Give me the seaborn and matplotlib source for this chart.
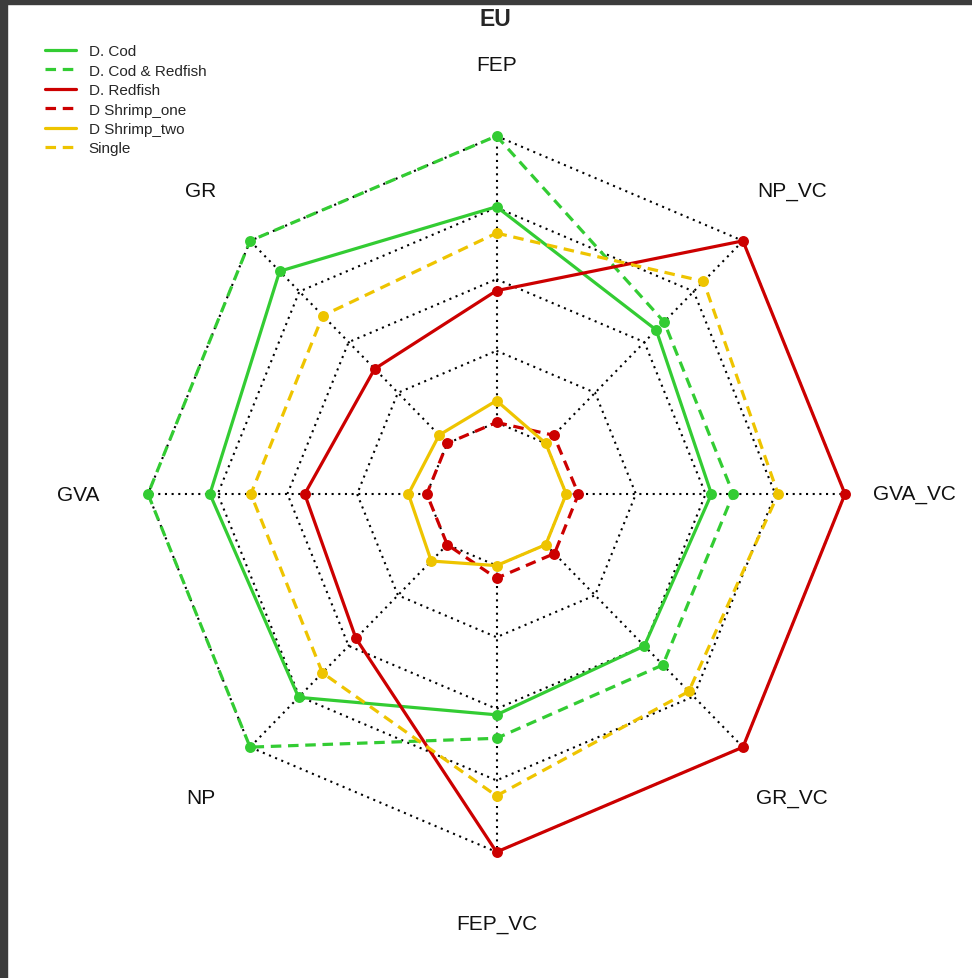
import numpy as np
import pandas as pd
import matplotlib
matplotlib.use("Agg")
import matplotlib.pyplot as plt
from matplotlib.lines import Line2D
from matplotlib.patches import Rectangle
import seaborn as sns

# Radar axes, clockwise from the top
axes_labels = ["FEP", "NP_VC", "GVA_VC", "GR_VC", "FEP_VC", "NP", "GVA", "GR"]

# Scores per axis on a 0 (axis minimum) .. 100 (axis maximum) scale
d_cod = [75.3, 56.0, 52.1, 50.0, 52.1, 75.4, 77.8, 85.0]
d_cod_redfish = [100, 60.0, 59.9, 59.4, 60.3, 100, 100, 100]
d_redfish = [46.0, 100, 100, 100, 100, 46.3, 43.8, 36.8]
d_shrimp_one = [0, 4.0, 4.4, 4.4, 4.4, 0, 0, 0]
d_shrimp_two = [7.6, 0, 0, 0, 0, 8.1, 6.6, 4.1]
single = [66.1, 80.0, 76.0, 72.5, 80.4, 63.3, 63.1, 63.1]

series_names = ["D. Cod", "D. Cod & Redfish", "D. Redfish",
                "D Shrimp_one", "D Shrimp_two", "Single"]
series_values = [d_cod, d_cod_redfish, d_redfish,
                 d_shrimp_one, d_shrimp_two, single]

GREEN, RED, GOLD = "#33CC33", "#CC0000", "#EEC400"
DASH = (0, (3.3, 2.1))
styles = {
    "D. Cod": (GREEN, "-"),
    "D. Cod & Redfish": (GREEN, DASH),
    "D. Redfish": (RED, "-"),
    "D Shrimp_one": (RED, DASH),
    "D Shrimp_two": (GOLD, "-"),
    "Single": (GOLD, DASH),
}

SEG = 4            # grid segments between minimum and maximum
CGAP = 1           # hollow centre, one segment wide
n = len(axes_labels)
theta = np.arange(n) * 2 * np.pi / n


def radius(score):
    return (np.asarray(score, float) / 100.0 * SEG + CGAP) / (SEG + CGAP)


def to_xy(r):
    return r * np.sin(theta), r * np.cos(theta)


sns.set_theme(style="white")
plt.rcParams["font.family"] = ["Liberation Sans", "DejaVu Sans"]

fig = plt.figure(figsize=(9.72, 9.79), dpi=100)
ax = fig.add_axes([0, 0, 1, 1])
ax.set_xlim(-496.5 / 348.5, (972 - 496.5) / 348.5)
ax.set_ylim(-(979 - 495) / 358.0, 495 / 358.0)
ax.axis("off")

# Dotted web: rings and spokes
grid_kw = dict(color="#000000", linewidth=1.5, linestyle=(0, (1, 2.2)), zorder=1)
for k in range(SEG + 1):
    rr = (k + CGAP) / (SEG + CGAP)
    gx, gy = to_xy(np.full(n, rr))
    ax.plot(np.append(gx, gx[0]), np.append(gy, gy[0]), **grid_kw)
r0 = CGAP / (SEG + CGAP)
for t in theta:
    ax.plot([r0 * np.sin(t), np.sin(t)], [r0 * np.cos(t), np.cos(t)], **grid_kw)

# Axis labels
for lab, t in zip(axes_labels, theta):
    ax.text(1.2 * np.sin(t), 1.2 * np.cos(t), lab, ha="center", va="center",
            fontsize=15, color="#111111")

# Series polygons and vertices
handles = []
for name, vals in zip(series_names, series_values):
    color, ls = styles[name]
    x, y = to_xy(radius(vals))
    df = pd.DataFrame({"x": np.append(x, x[0]), "y": np.append(y, y[0])})
    sns.lineplot(data=df, x="x", y="y", sort=False, estimator=None, ax=ax,
                 color=color, linestyle=ls, linewidth=2.3, zorder=3)
    sns.scatterplot(x=x, y=y, ax=ax, color=color, s=62, linewidth=0,
                    zorder=4, legend=False)
    handles.append(Line2D([], [], color=color, linestyle=ls, linewidth=2.3,
                          label=name))

ax.set_xlabel("")
ax.set_ylabel("")

fig.legend(handles=handles, loc="upper left", bbox_to_anchor=(45 / 972, 1 - 45 / 979),
           frameon=False, fontsize=11, handlelength=2.0, handletextpad=0.85,
           labelspacing=0.36, borderaxespad=0, borderpad=0)

fig.text(495 / 972, 1 - 19 / 979, "EU", ha="center", va="center",
         fontsize=16.5, fontweight="bold")

# Dark window edge along the top and left
fig.patches.append(Rectangle((0, 0), 7 / 972, 1, transform=fig.transFigure,
                             color="#3C3C3C", zorder=10))
fig.patches.append(Rectangle((0, 1 - 5 / 979), 1, 5 / 979, transform=fig.transFigure,
                             color="#3C3C3C", zorder=10))

fig.savefig("out.png", dpi=100)
